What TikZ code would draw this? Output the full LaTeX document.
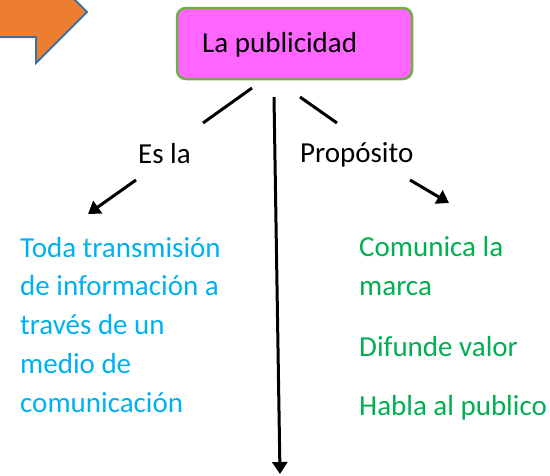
\documentclass[tikz,border=0pt]{standalone}
\usepackage{fontspec}
\setmainfont{Carlito}
\usetikzlibrary{arrows.meta}
\definecolor{pubfill}{HTML}{FF66FF}
\definecolor{publine}{HTML}{70AD47}
\definecolor{arrfill}{HTML}{ED7D31}
\definecolor{arrline}{HTML}{41719C}
\definecolor{defblue}{HTML}{00B0F0}
\definecolor{fingreen}{HTML}{00B050}
\begin{document}
\begin{tikzpicture}[x=1pt,y=-1pt,
  line/.style={line width=3pt},
  arr/.style={line width=3pt,-{Triangle[length=12pt,width=15pt]}},
  txt/.style={font=\fontsize{29}{38.7}\selectfont,inner sep=0pt,anchor=base west,align=left}]
\useasboundingbox (0,0) rectangle (550,475);
\clip (0,0) rectangle (550,475);
% orange arrow, cut by the page edge
\draw[line width=2pt,draw=arrline,fill=arrfill] (-20,-13) -- (36,-13) -- (36,-39) -- (87,12)
  -- (36,63) -- (36,37) -- (-20,37) -- cycle;
\node (pub) at (294.5,43.5) [draw=publine,fill=pubfill,line width=2.5pt,rounded corners=9pt,
  minimum width=235pt,minimum height=71pt] {};
\node (publbl) at (202,52) [txt] {La publicidad};
\node (esla) at (138,163) [txt] {Es la};
\node (prop) at (300,162) [txt] {Propósito};
% multi-line nodes: base is the last line
\node (def) at (20,412) [txt,text=defblue] {Toda transmisión\\de información a\\través de un\\medio de\\comunicación};
\node (com) at (359,295) [txt,text=fingreen] {Comunica la\\marca};
\node (dif) at (359,356) [txt,text=fingreen] {Difunde valor};
\node (hab) at (359,415) [txt,text=fingreen] {Habla al publico};
\coordinate (c1) at (252,88);
\coordinate (c2) at (203,123);
\coordinate (c3) at (300,97);
\coordinate (c4) at (337,123);
\coordinate (c5) at (274,97);
\coordinate (c6) at (280,474);
\coordinate (c7) at (136,180);
\coordinate (c8) at (88,214);
\coordinate (c9) at (410,180);
\coordinate (c10) at (449,203);
\draw[line] (c1) -- (c2);
\draw[line] (c3) -- (c4);
\draw[arr] (c5) -- (c6);
\draw[arr] (c7) -- (c8);
\draw[arr] (c9) -- (c10);
\end{tikzpicture}
\end{document}
